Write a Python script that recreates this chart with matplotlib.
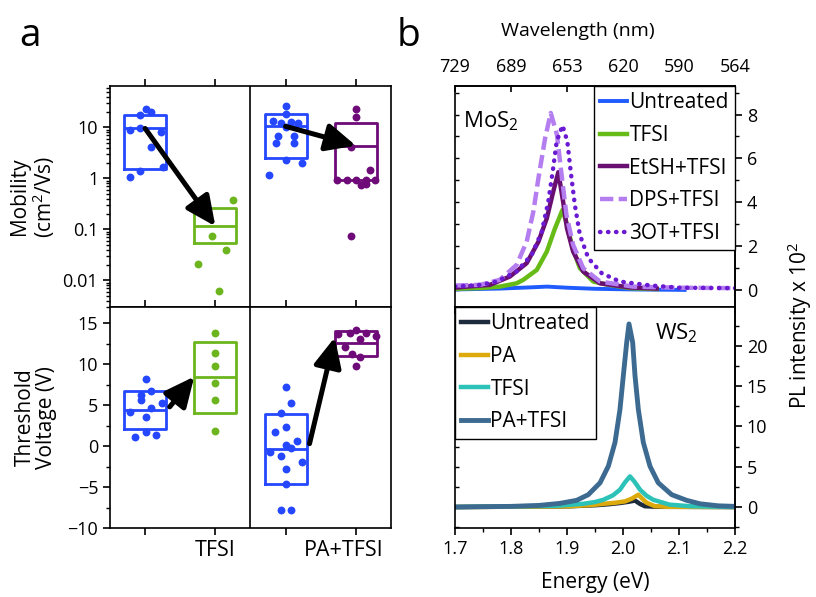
import numpy as np
import matplotlib.pyplot as plt
import matplotlib.transforms as mtransforms
from matplotlib.ticker import MultipleLocator, FuncFormatter, NullFormatter, LogLocator

plt.rcParams['font.family'] = ['Open Sans', 'DejaVu Sans']
plt.rcParams['mathtext.fontset'] = 'custom'
plt.rcParams['mathtext.rm'] = 'Open Sans'
plt.rcParams['mathtext.it'] = 'Open Sans:italic'

# ---- panel a: mobility (log) ----
mob_ctrl1 = [23.5, 20.3, 17.2, 8.9, 9.9, 8.0, 4.2, 1.42, 1.69, 1.08]
mob_ctrl1_dx = [0.01, 0.085, -0.07, -0.21, -0.07, 0.23, 0.08, -0.07, 0.25, -0.21]
mob_tfsi = [0.38, 0.075, 0.039, 0.021, 0.0063]
mob_tfsi_dx = [0.25, -0.05, 0.15, -0.25, 0.05]
mob_ctrl2 = [26.6, 18.3, 13.1, 12.0, 12.5, 12.0, 10.0, 6.9, 6.9, 4.85, 4.85, 2.29, 2.0, 1.15]
mob_ctrl2_dx = [0, 0, -0.18, -0.06, 0.075, 0.18, 0, -0.11, 0.12, -0.13, 0.12, 0, 0.24, -0.24]
mob_patfsi = [23.5, 16.2, 4.05, 1.46, 0.94, 0.94, 0.94, 0.94, 0.94, 0.75, 0.78, 0.075]
mob_patfsi_dx = [0, 0, -0.07, 0.2, -0.27, -0.13, 0, 0.14, 0.27, 0.07, 0.14, -0.07]
mob_q1 = [1.53, 0.054, 2.51, 0.94]
mob_med = [9.55, 0.115, 10.5, 4.4]
mob_q3 = [17.5, 0.26, 18.3, 12.2]

# ---- panel a: threshold voltage ----
vth_ctrl1 = [8.21, 6.26, 5.65, 6.79, 5.33, 4.72, 4.15, 3.62, 1.71, 1.14, 1.38]
vth_ctrl1_dx = [0.01, -0.06, -0.06, 0.085, 0.24, 0.085, -0.21, 0.01, 0.01, -0.14, 0.16]
vth_tfsi = [13.86, 11.42, 9.84, 7.76, 5.65, 1.79]
vth_tfsi_dx = [0, 0, 0, 0, 0, 0]
vth_ctrl2 = [7.2, 5.24, 4.02, 1.67, 2.32, 0.69, 0.08, -0.24, -0.77, -1.18, -1.99, -2.8, -4.63, -7.76, -7.76]
vth_ctrl2_dx = [0, 0.075, -0.065, -0.15, 0, 0.157, 0, 0.075, -0.22, -0.065, 0.228, 0, 0, -0.065, 0.075]
vth_patfsi = [13.66, 13.78, 14.19, 13.78, 13.46, 13.05, 12.07, 11.22, 10.93, 9.84]
vth_patfsi_dx = [-0.25, -0.08, 0, 0.15, 0.28, 0.06, -0.15, -0.05, 0.06, 0]
vth_q1 = [2.11, 4.02, -4.63, 11.06]
vth_med = [4.43, 8.41, -0.33, 12.56]
vth_q3 = [6.79, 12.68, 3.94, 14.07]
vth_arrow_from = [(1.35, 4.8), (3.34, 0.3)]
vth_arrow_to = [(1.7, 8.5), (3.7, 13.3)]

group_pos = [1, 2, 3, 4]
group_labels = ['', 'TFSI', '', 'PA+TFSI']

# ---- panel b: MoS2 PL ----
mos_untr_E = [1.70, 1.78, 1.83, 1.864, 1.90, 1.95, 2.02, 2.11]
mos_untr_I = [0.02, 0.06, 0.11, 0.15, 0.10, 0.05, 0.02, 0.0]
mos_tfsi_E = [1.70, 1.75, 1.78, 1.81, 1.822, 1.846, 1.864, 1.8786, 1.892, 1.90, 1.910, 1.923, 1.947, 1.97, 2.0125, 2.06]
mos_tfsi_I = [0.05, 0.09, 0.15, 0.30, 0.46, 0.91, 1.75, 2.81, 3.65, 2.97, 1.90, 0.99, 0.38, 0.25, 0.08, 0.04]
mos_etsh_E = [1.70, 1.72, 1.7625, 1.798, 1.828, 1.849, 1.864, 1.8755, 1.8845, 1.893, 1.90, 1.911, 1.929, 1.959, 2.0125, 2.06]
mos_etsh_I = [0.10, 0.15, 0.23, 0.61, 1.22, 2.20, 3.27, 4.49, 5.37, 4.03, 2.81, 1.75, 0.84, 0.30, 0.11, 0.06]
mos_dps_E = [1.70, 1.745, 1.78, 1.81, 1.828, 1.840, 1.849, 1.861, 1.871, 1.882, 1.891, 1.899, 1.911, 1.929, 1.959, 2.018, 2.10, 2.20]
mos_dps_I = [0.20, 0.23, 0.46, 1.14, 2.20, 3.58, 5.10, 6.93, 8.07, 7.08, 5.10, 3.42, 2.05, 0.99, 0.38, 0.15, 0.10, 0.08]
mos_3ot_E = [1.70, 1.745, 1.7745, 1.81, 1.837, 1.855, 1.8666, 1.8745, 1.8816, 1.892, 1.9006, 1.9066, 1.914, 1.923, 1.938, 1.962, 1.9946, 2.05, 2.10, 2.20]
mos_3ot_I = [0.15, 0.23, 0.38, 0.84, 1.60, 2.66, 4.03, 5.40, 6.77, 7.50, 6.77, 5.40, 3.88, 2.51, 1.45, 0.76, 0.38, 0.20, 0.10, 0.08]

# ---- panel b: WS2 PL ----
ws_untr_E = [1.70, 1.90, 1.95, 1.975, 1.995, 2.01, 2.0214, 2.03, 2.039, 2.06, 2.20]
ws_untr_I = [0.0, 0.08, 0.22, 0.35, 0.50, 0.65, 0.80, 0.40, 0.10, 0.03, 0.0]
ws_pa_E = [1.70, 1.90, 1.945, 1.965, 1.985, 2.0036, 2.016, 2.0274, 2.035, 2.0423, 2.057, 2.08, 2.20]
ws_pa_I = [0.0, 0.08, 0.25, 0.40, 0.52, 0.70, 1.05, 1.53, 1.00, 0.53, 0.10, 0.03, 0.0]
ws_tfsi_E = [1.70, 1.88, 1.929, 1.950, 1.965, 1.982, 1.9946, 2.004, 2.0125, 2.021, 2.0304, 2.042, 2.054, 2.083, 2.12, 2.20]
ws_tfsi_I = [0.0, 0.15, 0.40, 0.62, 0.90, 1.45, 2.15, 3.10, 3.80, 3.10, 2.15, 1.40, 0.90, 0.30, 0.10, 0.0]
ws_patfsi_E = [1.70, 1.80, 1.85, 1.887, 1.9173, 1.938, 1.959, 1.9738, 1.9857, 1.9946, 2.0006, 2.0066,
               2.0107, 2.0173, 2.0214, 2.0274, 2.0363, 2.0482, 2.063, 2.087, 2.1137, 2.1375, 2.17, 2.20]
ws_patfsi_I = [0.0, 0.08, 0.20, 0.45, 0.83, 1.53, 3.0, 5.06, 8.0, 12.1, 16.3, 20.4,
               22.7, 20.4, 16.3, 12.1, 8.0, 5.06, 3.0, 1.53, 0.83, 0.40, 0.15, 0.08]

energy_ticks = [1.7, 1.8, 1.9, 2.0, 2.1, 2.2]
mos_ticks = [0, 2, 4, 6, 8]
ws_ticks = [0, 5, 10, 15, 20]

blue = '#2447ff'
green = '#6cb51e'
purple = '#6e0b78'

W, H = 816, 597
fig = plt.figure(figsize=(W / 100, H / 100), dpi=100)


def px_axes(x0, y0, x1, y1):
    return fig.add_axes([x0 / W, 1 - y1 / H, (x1 - x0) / W, (y1 - y0) / H])


ax_mob = px_axes(110, 86, 391, 307)
ax_vth = px_axes(110, 307, 391, 528)
ax_mos = px_axes(455, 86, 735, 307)
ax_ws = px_axes(455, 307, 735, 528)

for ax in [ax_mob, ax_vth, ax_mos, ax_ws]:
    for s in ax.spines.values():
        s.set_linewidth(1.2)


def draw_groups(ax, groups, q1, med, q3):
    for i, (vals, dx, c) in enumerate(groups):
        st = dict(med=med[i], q1=q1[i], q3=q3[i], whislo=q1[i], whishi=q3[i], fliers=[])
        ax.bxp([st], positions=[group_pos[i]], widths=0.6, showcaps=False,
               boxprops=dict(color=c, lw=2), medianprops=dict(color=c, lw=2),
               whiskerprops=dict(lw=0), manage_ticks=False)
        ax.scatter(np.array(dx) + group_pos[i], vals, s=32, color=c, lw=0, zorder=3)


def arrow(ax, p0, p1):
    ax.annotate('', xy=p1, xytext=p0, zorder=5,
                arrowprops=dict(arrowstyle='-|>,head_length=0.75,head_width=0.35',
                                mutation_scale=24, lw=3.6, color='black',
                                shrinkA=0, shrinkB=0))


# mobility
draw_groups(ax_mob, [(mob_ctrl1, mob_ctrl1_dx, blue), (mob_tfsi, mob_tfsi_dx, green),
                     (mob_ctrl2, mob_ctrl2_dx, blue), (mob_patfsi, mob_patfsi_dx, purple)],
            mob_q1, mob_med, mob_q3)
ax_mob.set_yscale('log')
ax_mob.set_ylim(0.003, 65)
ax_mob.set_yticks([0.01, 0.1, 1, 10])
ax_mob.yaxis.set_major_formatter(FuncFormatter(lambda v, p: f'{v:g}'))
ax_mob.yaxis.set_minor_locator(LogLocator(subs=np.arange(2, 10)))
ax_mob.yaxis.set_minor_formatter(NullFormatter())
arrow(ax_mob, (group_pos[0], mob_med[0]), (group_pos[1], mob_med[1]))
arrow(ax_mob, (group_pos[2], mob_med[2]), (group_pos[3], mob_med[3]))
ax_mob.set_ylabel('Mobility\n(cm$^2$/Vs)', fontsize=15, linespacing=1.0)

# threshold voltage
draw_groups(ax_vth, [(vth_ctrl1, vth_ctrl1_dx, blue), (vth_tfsi, vth_tfsi_dx, green),
                     (vth_ctrl2, vth_ctrl2_dx, blue), (vth_patfsi, vth_patfsi_dx, purple)],
            vth_q1, vth_med, vth_q3)
ax_vth.set_ylim(-10, 17)
ax_vth.yaxis.set_major_locator(MultipleLocator(5))
ax_vth.yaxis.set_minor_locator(MultipleLocator(2.5))
for p0, p1 in zip(vth_arrow_from, vth_arrow_to):
    arrow(ax_vth, p0, p1)
ax_vth.set_ylabel('Threshold\nVoltage (V)', fontsize=15, linespacing=1.0)

for ax in [ax_mob, ax_vth]:
    ax.set_xlim(0.5, 4.5)
    ax.axvline(2.5, color='black', lw=1.2)
    ax.set_xticks(group_pos)
    ax.tick_params(axis='x', which='both', top=True, bottom=True, direction='out',
                   length=5, width=1.2)
    ax.tick_params(axis='y', which='major', direction='out', length=5, width=1.2, labelsize=13)
    ax.tick_params(axis='y', which='minor', direction='out', length=3, width=1)
    ax.yaxis.set_label_coords(-0.19, 0.5)
ax_mob.set_xticklabels([])
ax_vth.set_xticklabels(group_labels, fontsize=15.5)
lbl = ax_vth.get_xticklabels()[3]
lbl.set_transform(lbl.get_transform() + mtransforms.ScaledTranslation(-0.12, 0, fig.dpi_scale_trans))

legend_kw = dict(borderaxespad=0, fontsize=15, handlelength=1.3, handletextpad=0.1,
                 labelspacing=0.56, borderpad=0.3, fancybox=False, framealpha=1,
                 edgecolor='black')

# MoS2 spectra
ax_mos.plot(mos_untr_E, mos_untr_I, color='#1f5bff', lw=2.8, label='Untreated')
ax_mos.plot(mos_tfsi_E, mos_tfsi_I, color='#66bb17', lw=3.2, label='TFSI')
ax_mos.plot(mos_etsh_E, mos_etsh_I, color='#6a0f72', lw=3.2, label='EtSH+TFSI')
ax_mos.plot(mos_dps_E, mos_dps_I, color='#b57ef0', lw=3.2, dashes=(3, 1.2), label='DPS+TFSI')
ax_mos.plot(mos_3ot_E, mos_3ot_I, color='#6a1ad2', lw=3.2, linestyle=(0, (0.1, 1.7)),
            dash_capstyle='round', label='3OT+TFSI')
ax_mos.set_ylim(-0.78, 9.3)
ax_mos.text(0.03, 0.84, 'MoS$_2$', transform=ax_mos.transAxes, fontsize=16, va='center')
leg = ax_mos.legend(loc='upper right', **legend_kw)
leg.get_frame().set_linewidth(1.0)

# WS2 spectra
ax_ws.plot(ws_untr_E, ws_untr_I, color='#1e2b3c', lw=3.2, label='Untreated')
ax_ws.plot(ws_pa_E, ws_pa_I, color='#dcaa0c', lw=3.2, label='PA')
ax_ws.plot(ws_tfsi_E, ws_tfsi_I, color='#2cc2b7', lw=3.2, label='TFSI')
ax_ws.plot(ws_patfsi_E, ws_patfsi_I, color='#3c6a90', lw=3.5, label='PA+TFSI')
ax_ws.set_ylim(-2.6, 24.8)
ax_ws.text(0.79, 0.88, 'WS$_2$', transform=ax_ws.transAxes, fontsize=16, va='center', ha='center')
leg = ax_ws.legend(loc='upper left', **legend_kw)
leg.get_frame().set_linewidth(1.0)

for ax, ticks, minor in [(ax_mos, mos_ticks, 1), (ax_ws, ws_ticks, 2.5)]:
    ax.set_xlim(1.7, 2.2)
    ax.set_xticks(energy_ticks)
    ax.xaxis.set_minor_locator(MultipleLocator(0.05))
    ax.set_yticks(ticks)
    ax.yaxis.set_minor_locator(MultipleLocator(minor))
    ax.tick_params(axis='x', which='major', direction='out', length=5, width=1.2, labelsize=13)
    ax.tick_params(axis='x', which='minor', direction='out', length=3, width=1)
    ax.tick_params(axis='y', which='both', direction='in', length=3, width=1,
                   left=True, right=False, labelleft=False)
    sec = ax.secondary_yaxis('right')
    sec.set_yticks(ticks)
    sec.yaxis.set_minor_locator(MultipleLocator(minor))
    sec.tick_params(which='major', direction='out', length=5, width=1.2, labelsize=13)
    sec.tick_params(which='minor', direction='out', length=3, width=1)
    sec.spines['right'].set_linewidth(1.2)

ax_mos.tick_params(axis='x', labelbottom=False)
ax_ws.set_xlabel('Energy (eV)', fontsize=15, labelpad=10)

top = ax_mos.secondary_xaxis('top')
top.set_xticks(energy_ticks, labels=[f'{1240 / e:.0f}' for e in energy_ticks])
top.tick_params(direction='in', length=4, width=1.2, labelsize=13, pad=7)
top.spines['top'].set_linewidth(1.2)
top.set_xlabel('Wavelength (nm)', fontsize=14, labelpad=16)
top.xaxis.label.set_x(0.44)

fig.text(800 / W, 1 - 325 / H, 'PL intensity x 10$^2$', rotation=90, fontsize=15,
         ha='center', va='center')
fig.text(30 / W, 1 - 36 / H, 'a', fontsize=28, ha='center', va='center')
fig.text(408 / W, 1 - 36 / H, 'b', fontsize=28, ha='center', va='center')

fig.savefig('out.png', dpi=100)
